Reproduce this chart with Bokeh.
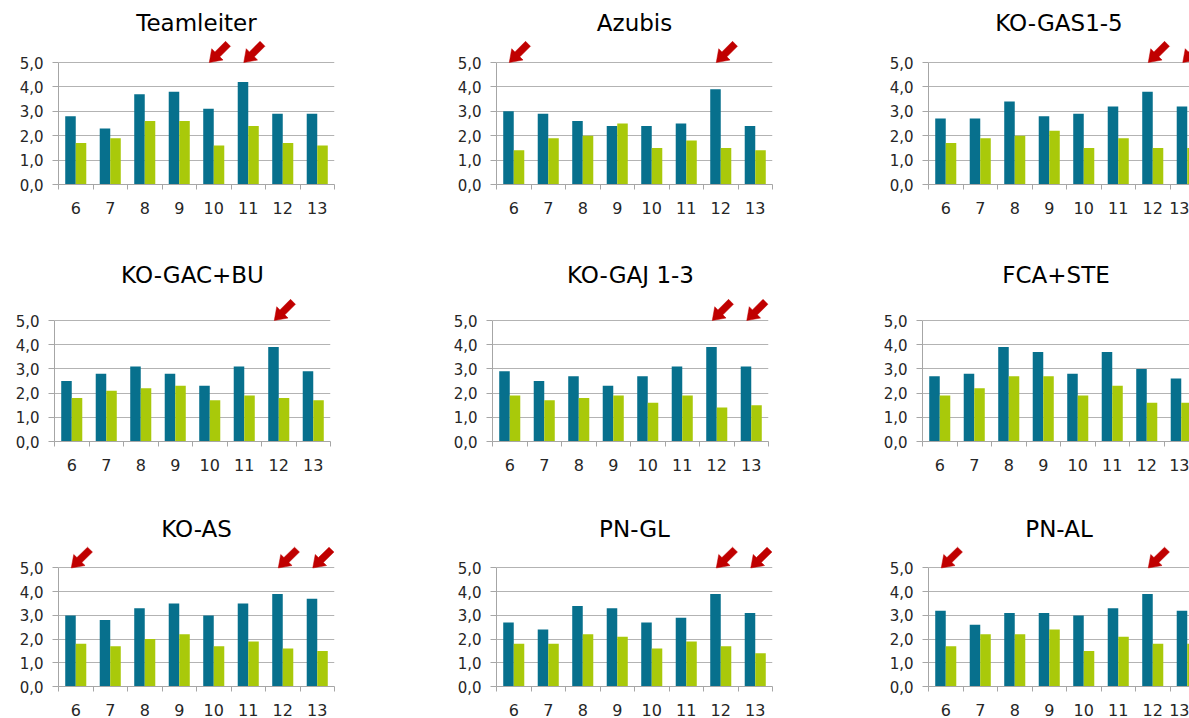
from bokeh.plotting import figure
from bokeh.layouts import row, column
from bokeh.models import Range1d, FixedTicker, Title, CustomJSTickFormatter
from bokeh.embed import file_html
from bokeh.resources import INLINE

# ---- data -------------------------------------------------------------
CATEGORIES = [6, 7, 8, 9, 10, 11, 12, 13]

TITLES = ["Teamleiter", "Azubis", "KO-GAS1-5",
          "KO-GAC+BU", "KO-GAJ 1-3", "FCA+STE",
          "KO-AS", "PN-GL", "PN-AL"]

teamleiter_teal = [2.8, 2.3, 3.7, 3.8, 3.1, 4.2, 2.9, 2.9]
teamleiter_lime = [1.7, 1.9, 2.6, 2.6, 1.6, 2.4, 1.7, 1.6]
azubis_teal = [3.0, 2.9, 2.6, 2.4, 2.4, 2.5, 3.9, 2.4]
azubis_lime = [1.4, 1.9, 2.0, 2.5, 1.5, 1.8, 1.5, 1.4]
ko_gas_teal = [2.7, 2.7, 3.4, 2.8, 2.9, 3.2, 3.8, 3.2]
ko_gas_lime = [1.7, 1.9, 2.0, 2.2, 1.5, 1.9, 1.5, 1.5]
ko_gac_teal = [2.5, 2.8, 3.1, 2.8, 2.3, 3.1, 3.9, 2.9]
ko_gac_lime = [1.8, 2.1, 2.2, 2.3, 1.7, 1.9, 1.8, 1.7]
ko_gaj_teal = [2.9, 2.5, 2.7, 2.3, 2.7, 3.1, 3.9, 3.1]
ko_gaj_lime = [1.9, 1.7, 1.8, 1.9, 1.6, 1.9, 1.4, 1.5]
fca_ste_teal = [2.7, 2.8, 3.9, 3.7, 2.8, 3.7, 3.0, 2.6]
fca_ste_lime = [1.9, 2.2, 2.7, 2.7, 1.9, 2.3, 1.6, 1.6]
ko_as_teal = [3.0, 2.8, 3.3, 3.5, 3.0, 3.5, 3.9, 3.7]
ko_as_lime = [1.8, 1.7, 2.0, 2.2, 1.7, 1.9, 1.6, 1.5]
pn_gl_teal = [2.7, 2.4, 3.4, 3.3, 2.7, 2.9, 3.9, 3.1]
pn_gl_lime = [1.8, 1.8, 2.2, 2.1, 1.6, 1.9, 1.7, 1.4]
pn_al_teal = [3.2, 2.6, 3.1, 3.1, 3.0, 3.3, 3.9, 3.2]
pn_al_lime = [1.7, 2.2, 2.2, 2.4, 1.5, 2.1, 1.8, 1.8]

# categories flagged with a red arrow in each panel
teamleiter_flags = [10, 11]
azubis_flags = [6, 12]
ko_gas_flags = [12, 13]
ko_gac_flags = [12]
ko_gaj_flags = [12, 13]
fca_ste_flags = []
ko_as_flags = [6, 12, 13]
pn_gl_flags = [12, 13]
pn_al_flags = [6, 12]

TEAL_VALUES = [teamleiter_teal, azubis_teal, ko_gas_teal,
               ko_gac_teal, ko_gaj_teal, fca_ste_teal,
               ko_as_teal, pn_gl_teal, pn_al_teal]
LIME_VALUES = [teamleiter_lime, azubis_lime, ko_gas_lime,
               ko_gac_lime, ko_gaj_lime, fca_ste_lime,
               ko_as_lime, pn_gl_lime, pn_al_lime]
FLAGS = [teamleiter_flags, azubis_flags, ko_gas_flags,
         ko_gac_flags, ko_gaj_flags, fca_ste_flags,
         ko_as_flags, pn_gl_flags, pn_al_flags]

# ---- styling / layout ---------------------------------------------------
TEAL = "#07708d"
LIME = "#a9c90a"
ARROW_RED = "#c00000"
GRID = "#b3b3b3"
AXIS = "#a6a6a6"
LABEL = "#262626"
FONT = "DejaVu Sans"

CAT_PX = 34.5          # pixel width of one category
BAR_W = 0.305          # bar width in category units

# per row: (figure top, frame top, zero line, pixels per unit, figure bottom)
ROWS = [(0, 36, 184, 24.4, 250),
        (250, 288, 441, 24.2, 505),
        (505, 542, 689, 24.2, 718)]
# per row: frame left edges of the three panels
FRAME_LEFT = [(58, 496, 928), (54, 492, 922), (58, 496, 928)]
COL_START = (0, 438, 876)
WINDOW_W = 1189
# horizontal title shift (px) relative to the frame centre
TITLE_SHIFT = [4.8, -28.2, -8.5, 12.7, -25.7, -4.7, 32.0, -7.0, 15.0]


def arrow_shape(tip_x, tip_y, sx, sy):
    """Block arrow pointing down-left with its tip at (tip_x, tip_y)."""
    d = (0.707, 0.707)
    n = (-0.707, 0.707)
    head_len, head_w, shaft_w, shaft_len = 11.5, 16.0, 7.0, 15.0
    hb = (d[0] * head_len, d[1] * head_len)
    pts = [(0.0, 0.0),
           (hb[0] + n[0] * head_w / 2, hb[1] + n[1] * head_w / 2),
           (hb[0] + n[0] * shaft_w / 2, hb[1] + n[1] * shaft_w / 2),
           (hb[0] + n[0] * shaft_w / 2 + d[0] * shaft_len,
            hb[1] + n[1] * shaft_w / 2 + d[1] * shaft_len),
           (hb[0] - n[0] * shaft_w / 2 + d[0] * shaft_len,
            hb[1] - n[1] * shaft_w / 2 + d[1] * shaft_len),
           (hb[0] - n[0] * shaft_w / 2, hb[1] - n[1] * shaft_w / 2),
           (hb[0] - n[0] * head_w / 2, hb[1] - n[1] * head_w / 2)]
    xs = [tip_x + px / sx for px, _ in pts]
    ys = [tip_y + py / sy for _, py in pts]
    return xs, ys


def make_panel(idx):
    r, c = divmod(idx, 3)
    fig_top, frame_top, zero_y, ppu, fig_bottom = ROWS[r]
    frame_left = FRAME_LEFT[r][c]
    col_start = COL_START[c]
    col_end = COL_START[c + 1] if c < 2 else WINDOW_W
    frame_w = int(round(min(8 * CAT_PX, WINDOW_W - frame_left)))
    frame_h = zero_y - frame_top
    x_end = frame_w / CAT_PX
    y_end = frame_h / ppu

    p = figure(width=col_end - col_start, height=fig_bottom - fig_top,
               x_range=Range1d(0, x_end), y_range=Range1d(0, y_end),
               toolbar_location=None, output_backend="svg",
               min_border_left=frame_left - col_start,
               min_border_right=col_end - frame_left - frame_w,
               min_border_top=frame_top - fig_top,
               min_border_bottom=fig_bottom - zero_y)
    p.outline_line_color = None
    p.background_fill_color = "white"
    p.border_fill_color = "white"

    title = Title(text=TITLES[idx], align="center", offset=TITLE_SHIFT[idx],
                  text_font=FONT, text_font_size="23px", text_font_style="normal",
                  text_color="black", standoff=2)
    p.add_layout(title, "above")

    n = len(CATEGORIES)
    centers = [i + 0.5 for i in range(n)]
    p.vbar(x=[x - BAR_W / 2 for x in centers], top=TEAL_VALUES[idx], bottom=0,
           width=BAR_W, fill_color=TEAL, line_color=None)
    p.vbar(x=[x + BAR_W / 2 for x in centers], top=LIME_VALUES[idx], bottom=0,
           width=BAR_W, fill_color=LIME, line_color=None)

    # red arrows marking flagged categories
    sx = CAT_PX
    xs_all, ys_all = [], []
    for cat in FLAGS[idx]:
        k = CATEGORIES.index(cat)
        xs, ys = arrow_shape(k + 0.37, 5.0, sx, ppu)
        xs_all.append(xs)
        ys_all.append(ys)
    if xs_all:
        p.patches(xs_all, ys_all, fill_color=ARROW_RED, line_color=ARROW_RED,
                  line_width=0.5)

    # grid
    p.xgrid.visible = False
    p.ygrid.ticker = FixedTicker(ticks=[1, 2, 3, 4, 5])
    p.ygrid.grid_line_color = GRID
    p.ygrid.grid_line_width = 1.2

    # y axis
    ya = p.yaxis[0]
    ya.ticker = FixedTicker(ticks=[0, 1, 2, 3, 4, 5], minor_ticks=[])
    ya.bounds = (0, 5)
    ya.formatter = CustomJSTickFormatter(code="return tick.toFixed(1).replace('.', ',');")
    ya.axis_line_color = AXIS
    ya.major_tick_line_color = AXIS
    ya.major_tick_out = 6
    ya.major_tick_in = 0
    ya.minor_tick_line_color = None
    ya.major_label_standoff = 9
    ya.major_label_text_font = FONT
    ya.major_label_text_font_size = "15px"
    ya.major_label_text_color = LABEL

    # x axis: labels at category centres, tick marks between categories
    xa = p.xaxis[0]
    xa.ticker = FixedTicker(ticks=centers, minor_ticks=list(range(n + 1)))
    xa.major_label_overrides = {x: str(cat) for x, cat in zip(centers, CATEGORIES)}
    xa.axis_line_color = AXIS
    xa.axis_line_width = 1.2
    xa.major_tick_line_color = None
    xa.major_tick_out = 0
    xa.major_tick_in = 0
    xa.minor_tick_line_color = AXIS
    xa.minor_tick_out = 5
    xa.minor_tick_in = 0
    xa.major_label_standoff = 12
    xa.major_label_text_font = FONT
    xa.major_label_text_font_size = "16px"
    xa.major_label_text_color = LABEL
    return p


panels = [make_panel(i) for i in range(9)]
layout = column(row(panels[0:3]), row(panels[3:6]), row(panels[6:9]))

with open("out.html", "w") as f:
    f.write(file_html(layout, INLINE))
